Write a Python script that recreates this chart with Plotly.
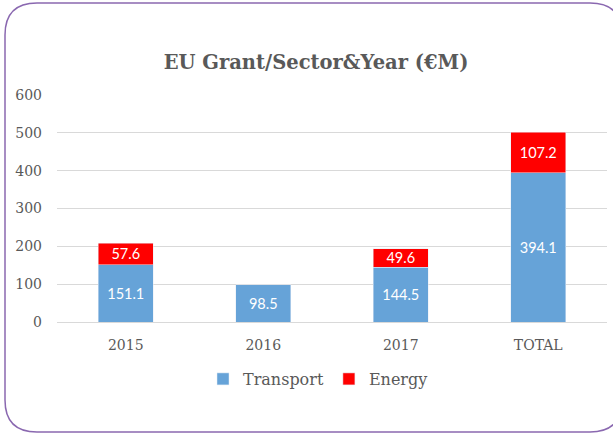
import plotly.graph_objects as go

categories = ["2015", "2016", "2017", "TOTAL"]
transport = [151.1, 98.5, 144.5, 394.1]
energy = [57.6, None, 49.6, 107.2]
y_ticks = [0, 100, 200, 300, 400, 500, 600]

W, H = 613, 435
L, R, T, B = 57, 6, 95, 113
pw, ph = W - L - R, H - T - B

def px(x):
    return (x - L) / pw

def py(y):
    return (H - B - y) / ph

SERIF = "DejaVu Serif"
GREY = "#595959"

fig = go.Figure()
fig.add_trace(go.Bar(
    name="Transport", x=categories, y=transport, marker_color="#66A3D8",
    text=[f"{v:.1f}" for v in transport], textposition="inside",
    insidetextanchor="middle", textangle=0, constraintext="none",
    textfont=dict(family="Lato", size=14.5, color="white"),
))
fig.add_trace(go.Bar(
    name="Energy", x=categories, y=energy, marker_color="#FF0000",
    text=[f"{v:.1f}" if v is not None else "" for v in energy], textposition="inside",
    insidetextanchor="middle", textangle=0, constraintext="none",
    textfont=dict(family="Lato", size=14.5, color="white"),
))

# rounded border
x0, y0, x1, y1, r = 5, 3, 622, 432, 32
path = (f"M {px(x0+r)},{py(y0)} L {px(x1-r)},{py(y0)} Q {px(x1)},{py(y0)} {px(x1)},{py(y0+r)} "
        f"L {px(x1)},{py(y1-r)} Q {px(x1)},{py(y1)} {px(x1-r)},{py(y1)} "
        f"L {px(x0+r)},{py(y1)} Q {px(x0)},{py(y1)} {px(x0)},{py(y1-r)} "
        f"L {px(x0)},{py(y0+r)} Q {px(x0)},{py(y0)} {px(x0+r)},{py(y0)} Z")
fig.add_shape(type="path", path=path, xref="paper", yref="paper",
              line=dict(color="#8A68B0", width=1.5), layer="below")

fig.update_layout(
    width=W, height=H,
    margin=dict(l=L, r=R, t=T, b=B, pad=0),
    barmode="stack", bargap=0.6,
    plot_bgcolor="white", paper_bgcolor="white",
    title=dict(text="<b>EU Grant/Sector&Year (€M)</b>", x=316 / W, xanchor="center",
               y=1 - 62 / H, yanchor="middle",
               font=dict(family=SERIF, size=19.5, color=GREY)),
    legend=dict(orientation="h", x=px(318), xanchor="center", y=py(379), yanchor="middle",
                font=dict(family=SERIF, size=16, color=GREY),
                itemwidth=30, traceorder="normal"),
    showlegend=True,
)
fig.update_yaxes(range=[0, 600], tickvals=y_ticks, showgrid=True, gridcolor="#D9D9D9",
                 gridwidth=1, zeroline=False, showline=False,
                 tickfont=dict(family=SERIF, size=14, color=GREY),
                 ticklabelstandoff=14)
fig.update_xaxes(showline=True, linecolor="#D9D9D9", linewidth=1,
                 tickfont=dict(family=SERIF, size=14, color=GREY),
                 ticklabelstandoff=10)

fig.write_html("out.html", post_script="document.body.style.margin='0';",
               config={"displayModeBar": False})
